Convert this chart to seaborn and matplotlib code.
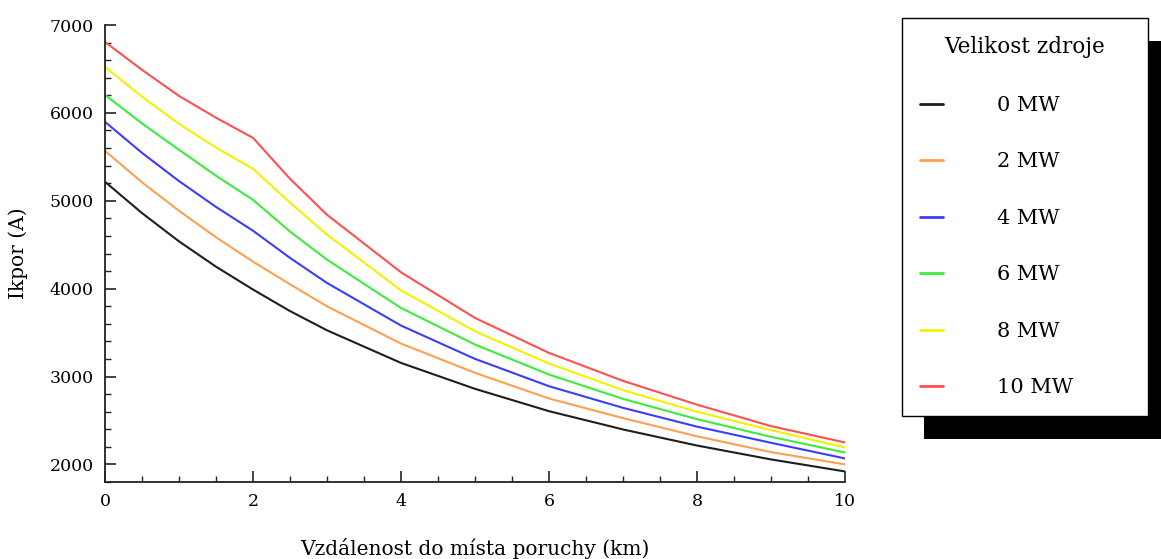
import numpy as np
import pandas as pd
import matplotlib
matplotlib.use("Agg")
import matplotlib.pyplot as plt
import seaborn as sns
from matplotlib.patches import Rectangle
from matplotlib.ticker import MultipleLocator

# ---- data ----
distance_km = [0, 0.5, 1, 1.5, 2, 2.5, 3, 4, 5, 6, 7, 8, 9, 10]
series_labels = ["0 MW", "2 MW", "4 MW", "6 MW", "8 MW", "10 MW"]
ik_0mw = [5216, 4860, 4538, 4250, 3990, 3745, 3526, 3155, 2860, 2606, 2398, 2215, 2057, 1920]
ik_2mw = [5568, 5210, 4886, 4585, 4307, 4050, 3799, 3375, 3042, 2750, 2527, 2320, 2140, 2000]
ik_4mw = [5898, 5545, 5224, 4930, 4659, 4350, 4065, 3580, 3201, 2890, 2644, 2430, 2246, 2068]
ik_6mw = [6205, 5880, 5580, 5285, 5011, 4650, 4330, 3780, 3364, 3023, 2746, 2515, 2314, 2136]
ik_8mw = [6523, 6185, 5875, 5605, 5364, 4980, 4614, 3981, 3515, 3148, 2845, 2600, 2390, 2193]
ik_10mw = [6807, 6490, 6193, 5945, 5716, 5250, 4841, 4186, 3667, 3269, 2951, 2680, 2436, 2250]

all_series = [ik_0mw, ik_2mw, ik_4mw, ik_6mw, ik_8mw, ik_10mw]
colors = ["#1e1e1e", "#FFA050", "#3C3CFF", "#3CEB3C", "#F2F200", "#FF5050"]

rows = []
for lab, vals in zip(series_labels, all_series):
    for xv, yv in zip(distance_km, vals):
        rows.append({"x": xv, "y": yv, "zdroj": lab})
df = pd.DataFrame(rows)

sns.set_style("ticks")
plt.rcParams["font.family"] = ["DejaVu Serif", "DejaVu Sans"]
plt.rcParams["text.color"] = "black"
plt.rcParams["axes.labelcolor"] = "black"
plt.rcParams["xtick.color"] = "black"
plt.rcParams["ytick.color"] = "black"

fig = plt.figure(figsize=(11.61, 5.59), dpi=100)
W, H = 1161, 559
ax = fig.add_axes([105 / W, 77 / H, (845 - 105) / W, (482 - 25) / H])

sns.lineplot(data=df, x="x", y="y", hue="zdroj", hue_order=series_labels,
             palette=colors, estimator=None, sort=False, lw=1.5, ax=ax)

ax.set_xlim(0, 10)
ax.set_ylim(1800, 7000)
ax.xaxis.set_major_locator(MultipleLocator(2))
ax.xaxis.set_minor_locator(MultipleLocator(0.5))
ax.yaxis.set_major_locator(MultipleLocator(1000))
ax.yaxis.set_minor_locator(MultipleLocator(200))
for s in ["top", "right"]:
    ax.spines[s].set_visible(False)
for s in ["left", "bottom"]:
    ax.spines[s].set_linewidth(1.3)
    ax.spines[s].set_color("#222222")
ax.tick_params(which="major", direction="in", length=8, width=1.2, labelsize=12.5, pad=8,
               color="#222222", labelcolor="black")
ax.tick_params(which="minor", direction="in", length=4.5, width=1.0, color="#222222")

ax.set_xlabel("Vzdálenost do místa poruchy (km)", fontsize=14.5, labelpad=20)
ax.set_ylabel("Ikpor (A)", fontsize=14.5, labelpad=16)

handles, labels = ax.get_legend_handles_labels()
ax.legend_.remove()
leg = fig.legend(handles, labels, title="Velikost zdroje", loc="upper left",
                 bbox_to_anchor=(902 / W, 1 - 18 / H, (1148 - 902) / W, 0),
                 mode="expand", borderaxespad=0, frameon=True, fancybox=False,
                 fontsize=15, title_fontsize=15.5, labelspacing=1.80,
                 borderpad=0.88, handlelength=1.1, handletextpad=2.6)
leg.get_frame().set_edgecolor("black")
leg.get_frame().set_linewidth(1.0)
leg.get_frame().set_alpha(1)
for lh in leg.get_lines():
    lh.set_linewidth(2)

fig.canvas.draw()
bb = leg.get_window_extent().transformed(fig.transFigure.inverted())
shadow = Rectangle((bb.x0 + 22 / W, bb.y0 - 23 / H), bb.width, bb.height,
                   transform=fig.transFigure, facecolor="black", edgecolor="none",
                   zorder=leg.get_zorder() - 1)
fig.add_artist(shadow)

fig.savefig("out.png", dpi=100)
